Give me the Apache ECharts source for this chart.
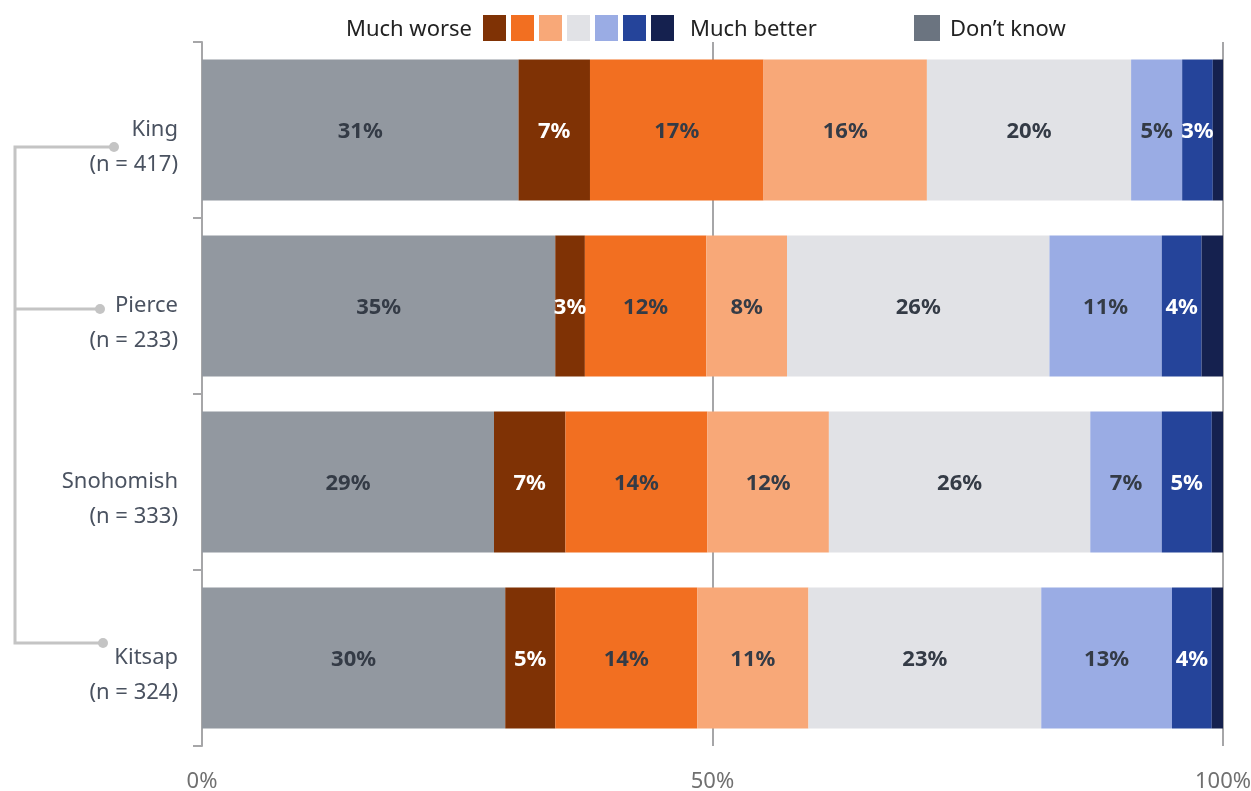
<!DOCTYPE html>
<html><head><meta charset="utf-8">
<script src="https://cdn.jsdelivr.net/npm/echarts@6/dist/echarts.min.js"></script>
<style>html,body{margin:0;padding:0;background:#fff}#c{width:1251px;height:791px}</style>
</head><body><div id="c"></div>
<script>
const categories = ['King\n(n = 417)', 'Pierce\n(n = 233)', 'Snohomish\n(n = 333)', 'Kitsap\n(n = 324)'];
const seriesNames = ['Don\u2019t know', 'Much worse', 'Worse', 'Somewhat worse', 'About the same', 'Somewhat better', 'Better', 'Much better'];
const dontKnow       = [31.0, 34.6, 28.6, 29.7];
const muchWorse      = [7.0, 2.9, 7.0, 4.9];
const worse          = [17.0, 11.9, 13.9, 13.9];
const somewhatWorse  = [16.0, 7.9, 11.9, 10.9];
const aboutSame      = [20.0, 25.7, 25.6, 22.8];
const somewhatBetter = [5.0, 11.0, 7.0, 12.8];
const better         = [3.0, 3.9, 4.9, 3.9];
const muchBetter     = [1.0, 2.1, 1.1, 1.1];
const xTicks = [0, 50, 100];

const seriesData = [dontKnow, muchWorse, worse, somewhatWorse, aboutSame, somewhatBetter, better, muchBetter];
const colors = ['#9298a0', '#7f3205', '#f26f21', '#f8a878', '#e1e2e6', '#9aace4', '#25449a', '#15214f'];
const labelColors = ['#343b46', '#ffffff', '#343b46', '#343b46', '#343b46', '#343b46', '#ffffff', '#ffffff'];
const showLabel = [true, true, true, true, true, true, true, false];
const FONT = 'Noto Sans';

const chart = echarts.init(document.getElementById('c'), null, {renderer: 'canvas'});
const series = seriesNames.map((n, i) => ({
  name: n, type: 'bar', stack: 'all', data: seriesData[i],
  barWidth: '80%',
  itemStyle: {color: colors[i]},
  label: {show: showLabel[i], position: 'inside', formatter: p => Math.round(p.value) + '%',
    color: labelColors[i], fontFamily: FONT, fontWeight: 'bold', fontSize: 22, offset: [0, 2]},
  emphasis: {disabled: true}
}));

chart.setOption({
  animation: false,
  textStyle: {fontFamily: FONT},
  grid: {left: 202, right: 28, top: 42, bottom: 45, outerBoundsMode: 'none', containLabel: false},
  legend: [{
    data: seriesNames.slice(1).map(n => ({name: n, icon: 'rect'})),
    formatter: () => '',
    left: 483, top: 15, itemWidth: 23, itemHeight: 26, itemGap: 5,
    selectedMode: false, padding: 0
  }, {
    data: [{name: seriesNames[0], icon: 'rect', itemStyle: {color: '#6b7480'}}],
    formatter: () => '',
    left: 914, top: 15, itemWidth: 26, itemHeight: 26, padding: 0,
    selectedMode: false
  }],
  xAxis: {
    type: 'value', min: xTicks[0], max: xTicks[xTicks.length - 1], interval: 50,
    axisLine: {show: false}, axisTick: {show: false},
    splitLine: {show: true, lineStyle: {color: '#a6a6a8', width: 2}},
    axisLabel: {formatter: v => v + '%', color: '#707070', fontSize: 22, margin: 25, fontFamily: FONT}
  },
  yAxis: {
    type: 'category', data: categories, inverse: true,
    axisLine: {show: true, lineStyle: {color: '#a6a6a8', width: 2}},
    axisTick: {show: true, length: 9, lineStyle: {color: '#a6a6a8', width: 2}},
    axisLabel: {color: '#4a5260', fontSize: 22, lineHeight: 35, margin: 24, align: 'right',
      formatter: v => '\n' + v, fontFamily: FONT}
  },
  graphic: {
    elements: [
      {type: 'text', right: 1251 - 472, top: 19, style: {text: 'Much worse', fontSize: 22, fill: '#222', fontFamily: FONT}},
      {type: 'text', left: 690, top: 19, style: {text: 'Much better', fontSize: 22, fill: '#222', fontFamily: FONT}},
      {type: 'text', left: 950, top: 19, style: {text: seriesNames[0], fontSize: 22, fill: '#222', fontFamily: FONT}},
      {type: 'polyline', shape: {points: [[114, 147], [15, 147], [15, 643], [103, 643]]}, style: {stroke: '#c4c4c4', lineWidth: 3, fill: null}, silent: true},
      {type: 'line', shape: {x1: 15, y1: 309, x2: 100, y2: 309}, style: {stroke: '#c4c4c4', lineWidth: 3}, silent: true},
      {type: 'circle', shape: {cx: 114, cy: 147, r: 5}, style: {fill: '#c4c4c4'}, silent: true},
      {type: 'circle', shape: {cx: 100, cy: 309, r: 5}, style: {fill: '#c4c4c4'}, silent: true},
      {type: 'circle', shape: {cx: 103, cy: 643, r: 5}, style: {fill: '#c4c4c4'}, silent: true}
    ]
  },
  series: series
});
</script></body></html>
